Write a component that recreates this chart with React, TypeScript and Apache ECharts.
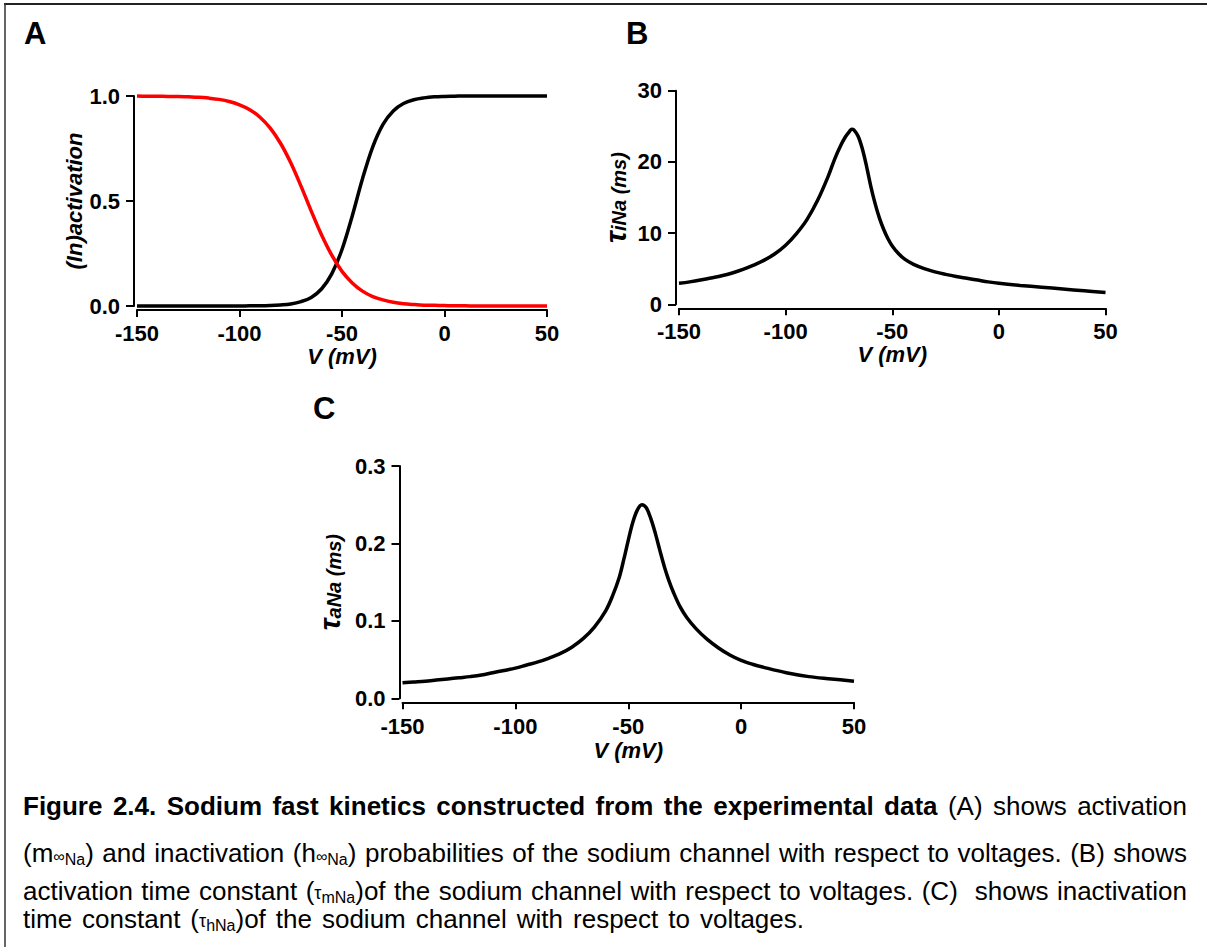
import React, { useEffect, useRef } from "react";
import * as echarts from "echarts";

const FONT = '"Liberation Sans", Arial, Helvetica, sans-serif';
const MEASURE_FAMILY = '"Liberation Sans", Arial, sans-serif';

// ---------------- data ----------------
// Panel A: steady-state activation (black) and inactivation (red)
const voltageA = [-150, -145, -140, -135, -130, -125, -120, -115, -110, -105, -100, -95, -90, -85, -80, -75, -70, -65, -60, -55, -50, -45, -40, -35, -30, -25, -20, -15, -10, -5, 0, 5, 10, 15, 20, 25, 30, 35, 40, 45, 50];
const activationA = [0, 0, 0, 0, 0, 0, 0, 0, 0, 0, 0, 0.001, 0.001, 0.002, 0.005, 0.010, 0.021, 0.041, 0.081, 0.153, 0.269, 0.429, 0.606, 0.758, 0.865, 0.929, 0.964, 0.982, 0.991, 0.996, 0.998, 0.999, 1, 1, 1, 1, 1, 1, 1, 1, 1];
const inactivationA = [1.0, 0.999, 0.999, 0.998, 0.998, 0.996, 0.994, 0.990, 0.984, 0.974, 0.958, 0.935, 0.899, 0.847, 0.775, 0.682, 0.571, 0.452, 0.339, 0.242, 0.165, 0.110, 0.071, 0.045, 0.029, 0.018, 0.011, 0.007, 0.004, 0.003, 0.002, 0.001, 0.001, 0, 0, 0, 0, 0, 0, 0, 0];

// Panel B: tau iNa (ms)
const voltageB = [-150, -145, -140, -135, -130, -125, -120, -115, -110, -105, -100, -95, -90, -85, -80, -77, -74, -72, -70, -69, -68, -66, -64, -62, -60, -58, -56, -54, -52, -50, -47, -44, -40, -35, -30, -25, -20, -15, -10, -5, 0, 10, 20, 30, 40, 50];
const tauB = [2.95, 3.15, 3.4, 3.7, 4.0, 4.4, 4.9, 5.5, 6.2, 7.1, 8.3, 9.9, 11.9, 14.6, 18.0, 20.4, 22.4, 23.5, 24.3, 24.6, 24.5, 23.6, 21.8, 19.3, 16.5, 14.1, 12.1, 10.5, 9.2, 8.2, 7.1, 6.3, 5.6, 5.0, 4.55, 4.2, 3.9, 3.65, 3.4, 3.15, 2.95, 2.65, 2.4, 2.15, 1.9, 1.65];

// Panel C: tau aNa (ms)
const voltageC = [-150, -145, -140, -135, -130, -125, -120, -115, -110, -105, -100, -95, -90, -85, -80, -75, -70, -65, -60, -57, -54, -52, -50, -48, -46, -44, -42, -40, -38, -36, -34, -32, -30, -27, -24, -20, -15, -10, -5, 0, 5, 10, 20, 30, 40, 50];
const tauC = [0.020, 0.021, 0.022, 0.0235, 0.025, 0.0265, 0.028, 0.030, 0.033, 0.036, 0.039, 0.043, 0.047, 0.052, 0.058, 0.066, 0.077, 0.092, 0.113, 0.132, 0.156, 0.179, 0.204, 0.227, 0.243, 0.250, 0.246, 0.232, 0.213, 0.191, 0.170, 0.152, 0.137, 0.118, 0.104, 0.090, 0.076, 0.065, 0.056, 0.049, 0.044, 0.040, 0.033, 0.028, 0.025, 0.022];

// axis ranges / ticks
const xRange = { min: -150, max: 50, interval: 50 };
const yRangeA = { min: 0, max: 1, interval: 0.5 };
const yRangeB = { min: 0, max: 30, interval: 10 };
const yRangeC = { min: 0, max: 0.3, interval: 0.1 };

const panelLetters = ["A", "B", "C"];
const xAxisTitle = "V (mV)";
const yTitleA = "(In)activation";
const yTitleB = "{t|τ}{s|iNa (ms)}";
const yTitleC = "{t|τ}{s|aNa (ms)}";

// caption runs: [text, style]
type Run = [string, string];
const captionLines: Run[][] = [
  [["Figure 2.4. Sodium fast kinetics constructed from the experimental data", "b"], [" (A) shows activation", "r"]],
  [["(m", "r"], ["∞", "inf"], ["Na", "sub"], [") and inactivation (h", "r"], ["∞", "inf"], ["Na", "sub"], [") probabilities of the sodium channel with respect to voltages. (B) shows", "r"]],
  [["activation time constant (", "r"], ["τ", "tau"], ["mNa", "sub"], [")of the sodium channel with respect to voltages. (C)  shows inactivation", "r"]],
  [["time constant (", "r"], ["τ", "tau"], ["hNa", "sub"], [")of the sodium channel with respect to voltages.", "r"]],
];

// ---------------- layout constants ----------------
const W = 1207;
const H = 947;
const CAP_SIZE = 26;
const CAP_LEFT = 23;
const CAP_RIGHTS = [1187, 1187, 1187, 804];
const CAP_Y = [806, 853, 891, 919];
const capStyles: Record<string, { size: number; weight: string; dy: number }> = {
  b: { size: CAP_SIZE, weight: "bold", dy: 0 },
  r: { size: CAP_SIZE, weight: "normal", dy: 0 },
  inf: { size: 16, weight: "normal", dy: 3 },
  sub: { size: 16, weight: "normal", dy: 6 },
  tau: { size: 18, weight: "normal", dy: 2 },
};

function buildCaption(): any[] {
  const canvas = document.createElement("canvas");
  const ctx = canvas.getContext("2d") as CanvasRenderingContext2D;
  const out: any[] = [];
  captionLines.forEach((line, li) => {
    const toks: { text: string; st: string; space: boolean }[] = [];
    line.forEach(([text, st]) => {
      text.split(/( )/).forEach((p) => {
        if (p === "") return;
        toks.push({ text: p, st, space: p === " " });
      });
    });
    const widths = toks.map((t) => {
      const s = capStyles[t.st];
      ctx.font = `${s.weight} ${s.size}px ${MEASURE_FAMILY}`;
      return ctx.measureText(t.text).width;
    });
    const natural = widths.reduce((a, b) => a + b, 0);
    const nSpaces = toks.filter((t) => t.space).length;
    const extra = nSpaces > 0 ? (CAP_RIGHTS[li] - CAP_LEFT - natural) / nSpaces : 0;
    let x = CAP_LEFT;
    toks.forEach((t, i) => {
      if (t.space) {
        x += widths[i] + extra;
        return;
      }
      const s = capStyles[t.st];
      out.push({
        type: "text",
        silent: true,
        x,
        y: CAP_Y[li] + s.dy,
        style: {
          text: t.text,
          fontSize: s.size,
          lineHeight: s.size,
          fontWeight: s.weight,
          fontFamily: FONT,
          fill: "#000",
          align: "left",
          textAlign: "left",
          verticalAlign: "middle",
          textVerticalAlign: "middle",
        },
      });
      x += widths[i];
    });
  });
  return out;
}

const tickLabelStyle = { fontSize: 22, fontWeight: "bold" as const, color: "#000", fontFamily: FONT };
const nameStyle = { fontSize: 22, fontWeight: "bold" as const, fontStyle: "italic" as const, color: "#000", fontFamily: FONT };

function makeX(gridIndex: number, margin: number, nameGap: number) {
  return {
    type: "value",
    gridIndex,
    min: xRange.min,
    max: xRange.max,
    interval: xRange.interval,
    offset: 4,
    name: xAxisTitle,
    nameLocation: "middle",
    nameGap,
    nameTextStyle: nameStyle,
    axisLine: { show: true, onZero: false, lineStyle: { color: "#000", width: 2 } },
    axisTick: { show: true, inside: false, length: 7, lineStyle: { color: "#000", width: 2 } },
    axisLabel: { ...tickLabelStyle, margin },
    splitLine: { show: false },
  };
}

function makeY(gridIndex: number, r: { min: number; max: number; interval: number }, decimals: number, name: string, nameGap: number, rich?: boolean) {
  return {
    type: "value",
    gridIndex,
    min: r.min,
    max: r.max,
    interval: r.interval,
    offset: 3,
    name,
    nameLocation: "middle",
    nameGap,
    nameTextStyle: rich
      ? {
          ...nameStyle,
          rich: {
            t: { fontSize: 29, fontWeight: "bold", fontStyle: "italic", color: "#000", fontFamily: FONT },
            s: { fontSize: 20, fontWeight: "bold", fontStyle: "italic", color: "#000", fontFamily: FONT, verticalAlign: "bottom", padding: [0, 0, 1, 0] },
          },
        }
      : nameStyle,
    axisLine: { show: true, onZero: false, lineStyle: { color: "#000", width: 2 } },
    axisTick: { show: true, inside: false, length: 8, lineStyle: { color: "#000", width: 2 } },
    axisLabel: { ...tickLabelStyle, margin: 14, formatter: (v: number) => v.toFixed(decimals) },
    splitLine: { show: false },
  };
}

function lineSeries(xi: number, xs: number[], ys: number[], color: string, width: number) {
  return {
    type: "line",
    xAxisIndex: xi,
    yAxisIndex: xi,
    data: xs.map((x, i) => [x, ys[i]]),
    showSymbol: false,
    symbol: "none",
    smooth: 0.35,
    clip: false,
    lineStyle: { color, width },
    emphasis: { disabled: true },
  };
}

export default function App() {
  const ref = useRef<HTMLDivElement>(null);
  useEffect(() => {
    if (!ref.current) return;
    const chart = echarts.init(ref.current, null, { renderer: "svg" });
    const letters = [
      { t: panelLetters[0], x: 24, y: 33 },
      { t: panelLetters[1], x: 626, y: 33 },
      { t: panelLetters[2], x: 313, y: 408 },
    ].map((l) => ({
      type: "text",
      silent: true,
      x: l.x,
      y: l.y,
      style: {
        text: l.t,
        fontSize: 31,
        fontWeight: "bold",
        fontFamily: FONT,
        fill: "#000",
        align: "left",
        textAlign: "left",
        verticalAlign: "middle",
        textVerticalAlign: "middle",
      },
    }));
    const option: any = {
      animation: false,
      backgroundColor: "#fff",
      textStyle: { fontFamily: FONT },
      grid: [
        { left: 137, top: 96, width: 410, height: 210, containLabel: false, outerBoundsMode: "none" },
        { left: 679, top: 90.7, width: 426.5, height: 213.6, containLabel: false, outerBoundsMode: "none" },
        { left: 402.5, top: 466, width: 451.5, height: 232.3, containLabel: false, outerBoundsMode: "none" },
      ],
      xAxis: [makeX(0, 12, 35), makeX(1, 12, 35), makeX(2, 13, 37)],
      yAxis: [
        makeY(0, yRangeA, 1, yTitleA, 46),
        makeY(1, yRangeB, 0, yTitleB, 46, true),
        makeY(2, yRangeC, 1, yTitleC, 55, true),
      ],
      series: [
        lineSeries(0, voltageA, activationA, "#000", 3.5),
        lineSeries(0, voltageA, inactivationA, "#ff0000", 3.5),
        lineSeries(1, voltageB, tauB, "#000", 3.5),
        lineSeries(2, voltageC, tauC, "#000", 3.5),
      ],
      graphic: [
        { type: "line", silent: true, shape: { x1: 4, y1: 4, x2: W, y2: 4 }, style: { stroke: "#222", lineWidth: 2 } },
        { type: "line", silent: true, shape: { x1: 5, y1: 3, x2: 5, y2: H }, style: { stroke: "#333", lineWidth: 1.5 } },
        ...letters,
        ...buildCaption(),
      ],
    };
    chart.setOption(option);
    return () => chart.dispose();
  }, []);
  return <div ref={ref} style={{ position: "fixed", left: 0, top: 0, width: W, height: H, background: "#fff" }} />;
}
